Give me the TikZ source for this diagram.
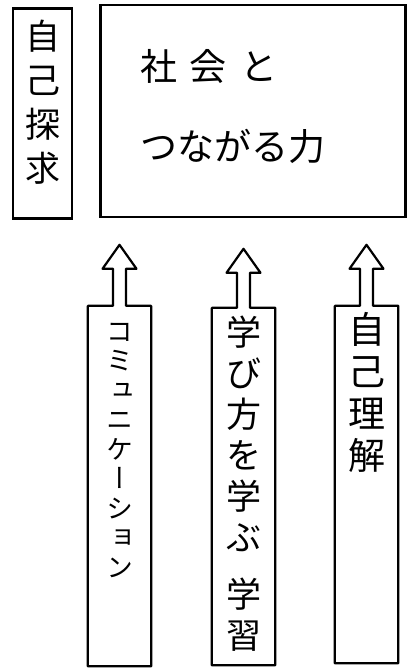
\documentclass[tikz,border=0pt]{standalone}
\usepackage{fontspec}
\newfontfamily\cjk{Noto Sans CJK JP}
\newfontfamily\cjkv[RawFeature=+vert]{Noto Sans CJK JP}
\tikzset{
  box/.style={draw, line width=2.2pt, inner sep=0pt},
  frame/.style={inner sep=0pt},
  outl/.style={line width=2.2pt, line join=round},
  vlabel/.style={align=center, anchor=north, inner sep=0pt},
}
\begin{document}
\begin{tikzpicture}[x=1pt,y=-1pt]
\useasboundingbox[fill=white] (0,0) rectangle (408,669);
% top row
\node[box, minimum width=59pt, minimum height=210pt] (tanq) at (42.5,113.5) {};
\node[vlabel, font=\cjk\fontsize{35}{44}\selectfont] (tanqt) at (42.5,20) {自\\己\\探\\求};
\node[box, minimum width=305pt, minimum height=212pt] (soc) at (253,111) {};
\node[anchor=north west, inner sep=0pt, align=left, font=\cjk\fontsize{37}{80}\selectfont] (soct) at (140,49) {社\hspace{12pt}会\hspace{14pt}と\\つながる力};
% columns
\node[frame, minimum width=63pt, minimum height=360pt] (c1) at (119.5,486) {};
\node[frame, minimum width=63pt, minimum height=357pt] (c2) at (243.5,486.5) {};
\node[frame, minimum width=63pt, minimum height=357pt] (c3) at (366.5,484.5) {};
\foreach \c/\s in {c1/37,c2/35,c3/37}{
  \draw[outl] (\c.south west) -- (\c.north west) -- ([xshift=-6.5pt]\c.north)
    -- ++(0,-\s) -- ++(-10.5,0) -- ++(17,-24) -- ++(17,24) -- ++(-10.5,0)
    -- ++(0,\s) -- (\c.north east) -- (\c.south east) -- cycle;
}
\node[vlabel, font=\cjkv\fontsize{27}{29.5}\selectfont] (c1t) at (120,323) {コ\\ミ\\ュ\\ニ\\ケ\\ー\\シ\\ョ\\ン};
\node[vlabel, font=\cjk\fontsize{35}{41}\selectfont] (c2t) at (243.5,316) {学\\び\\方\\を\\学\\ぶ\\[16pt]学\\習};
\node[vlabel, font=\cjk\fontsize{37}{42}\selectfont] (c3t) at (366.5,312) {自\\己\\理\\解};
\end{tikzpicture}
\end{document}
